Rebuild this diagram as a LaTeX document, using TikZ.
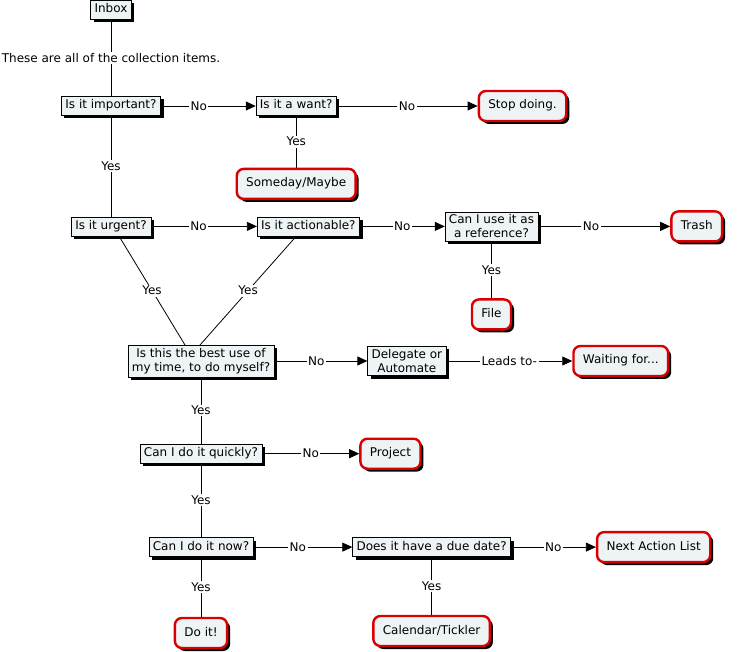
\documentclass[tikz,border=0pt]{standalone}
\usepackage{fontspec}
\setmainfont{DejaVu Sans}
\usepackage{xcolor}
\usepackage{tikz}
\usetikzlibrary{positioning,shadows,arrows.meta}
\definecolor{GTDRed}{HTML}{D80000}
\definecolor{GTDFill}{HTML}{EEF3F6}

\begin{document}
\begin{tikzpicture}[x=1pt, y=-1pt, >={Triangle[length=10pt,width=9pt]},
                    every node/.style={font=\fontsize{12}{14}\selectfont},
                    question/.style={draw=black, fill=GTDFill, align=center,
                                     inner xsep=4pt, inner ysep=3.5pt,
                                     text height=9pt, text depth=3pt,
                                     drop shadow={shadow xshift=3pt, shadow yshift=-3pt,
                                                  fill=black, opacity=1}},
                    twoline/.style={text height=, text depth=, inner ysep=3pt},
                    outcome/.style={draw=GTDRed, line width=2.4pt, rounded corners=7pt,
                                    fill=GTDFill, inner xsep=9.5pt, inner ysep=9pt,
                                    text height=9pt, text depth=3pt,
                                    drop shadow={shadow xshift=3pt, shadow yshift=-3pt,
                                                 fill=black, opacity=1}},
                    lbl/.style={fill=white, inner sep=1.5pt},
                    link/.style={draw=black, line width=0.8pt}]
\useasboundingbox (0,0) rectangle (740,652);
\node[question] (imp) at (111,106) {Is it important?};
\node[question, above=77pt of imp] (inbox) {Inbox};
\node[question, right=95pt of imp] (want) {Is it a want?};
\node[outcome, right=141pt of want] (stop) {Stop doing.};
\node[outcome, below=52pt of want] (someday) {Someday/Maybe};
\node[question, below=101pt of imp] (urgent) {Is it urgent?};
\node[question, right=106pt of urgent] (act) {Is it actionable?};
\node[question, twoline, right=85pt of act] (ref) {Can I use it as\\a reference?};
\node[outcome, right=132pt of ref] (trash) {Trash};
\node[outcome, below=57pt of ref] (file) {File};
\node[question, twoline] (best) at (201,361) {Is this the best use of\\my time, to do myself?};
\node[question, twoline, right=93pt of best] (deleg) {Delegate or\\Automate};
\node[outcome, right=126pt of deleg] (wait) {Waiting for...};
\node[question, below=67pt of best] (quick) {Can I do it quickly?};
\node[outcome, right=97pt of quick] (proj) {Project};
\node[question, below=74pt of quick] (now) {Can I do it now?};
\node[question, right=99pt of now] (due) {Does it have a due date?};
\node[outcome, right=85pt of due] (next) {Next Action List};
\node[outcome, below=60pt of now] (doit) {Do it!};
\node[outcome, below=58pt of due] (cal) {Calendar/Tickler};
\draw[link] (inbox) -- node[lbl]{These are all of the collection items.} (imp);
\draw[link, ->] (imp) -- node[lbl, pos=0.4]{No} (want);
\draw[link, ->] (want) -- node[lbl]{No} (stop);
\draw[link] (want) -- node[lbl]{Yes} (someday);
\draw[link] (imp) -- node[lbl]{Yes} (urgent);
\draw[link, ->] (urgent) -- node[lbl, pos=0.45]{No} (act);
\draw[link, ->] (act) -- node[lbl]{No} (ref);
\draw[link, ->] (ref) -- node[lbl, pos=0.4]{No} (trash);
\draw[link] (ref) -- node[lbl]{Yes} (file);
\draw[link] ([xshift=8pt]urgent.south) -- node[lbl]{Yes} ([xshift=-16pt]best.north);
\draw[link] ([xshift=-12pt]act.south) -- node[lbl]{Yes} ([xshift=-1pt]best.north);
\draw[link, ->] (best) -- node[lbl, pos=0.45]{No} (deleg);
\draw[link, ->] (deleg) -- node[lbl]{Leads to-} (wait);
\draw[link] (best) -- node[lbl]{Yes} (quick);
\draw[link, ->] (quick) -- node[lbl]{No} (proj);
\draw[link] (quick) -- node[lbl]{Yes} (now);
\draw[link, ->] (now) -- node[lbl, pos=0.45]{No} (due);
\draw[link, ->] (due) -- node[lbl]{No} (next);
\draw[link] (now) -- node[lbl]{Yes} (doit);
\draw[link] (due) -- node[lbl]{Yes} (cal);
\end{tikzpicture}
\end{document}
